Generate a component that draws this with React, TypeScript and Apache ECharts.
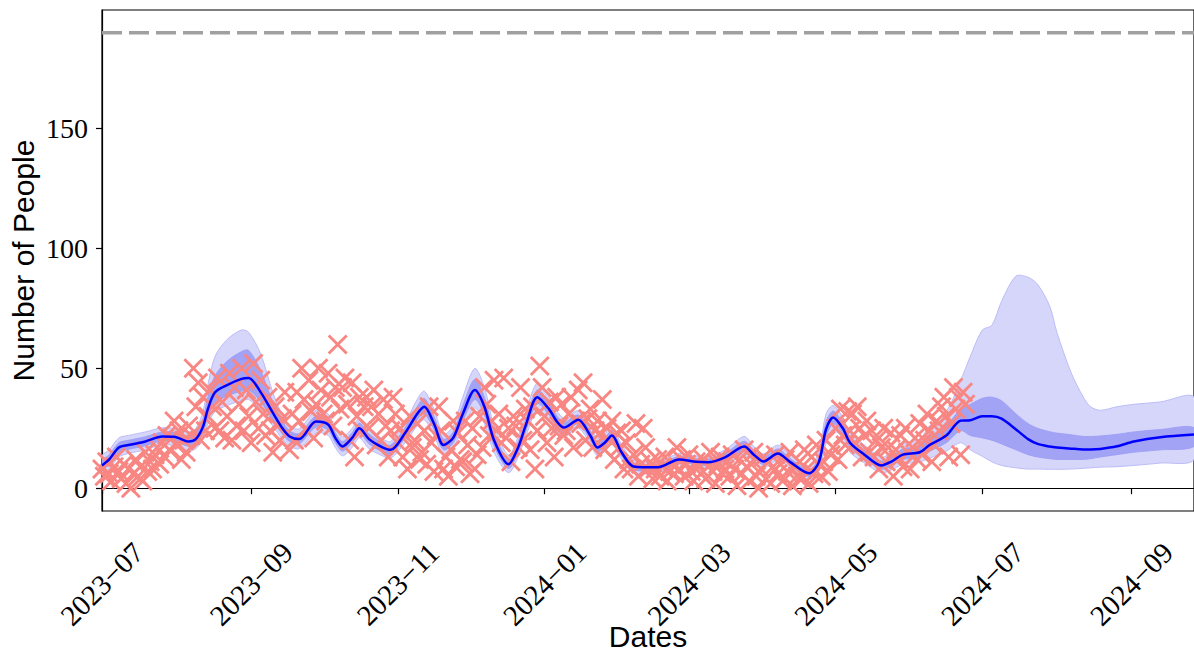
import React, { useEffect, useRef } from "react";
import * as echarts from "echarts";

// ---- data ----
const START = Date.UTC(2023, 6, 1);
const DAY = 86400000;
const X_END_DAY = 454;
const CAPACITY = 190;
const Y_MIN = -9.5;
const Y_MAX = 199.5;
const yTicks = [0, 50, 100, 150];
const xTickDates = ["2023-07-01", "2023-09-01", "2023-11-01", "2024-01-01", "2024-03-01", "2024-05-01", "2024-07-01", "2024-09-01"];

// daily observed counts starting 2023-07-01
const observed = [
  8, 5, 11, 6, 3, 9, 13, 7, 4, 10,
  2, 8, 0, 6, 12, 5, 9, 3, 15, 7,
  11, 8, 14, 17, 10, 19, 13, 22, 16, 21,
  28, 18, 24, 12, 20, 15, 26, 22, 50, 34,
  44, 20, 38, 24, 30, 41, 34, 25, 46, 24,
  36, 21, 30, 48, 20, 42, 26, 35, 50, 24,
  41, 30, 19, 52, 36, 25, 45, 31, 22, 38,
  24, 15, 34, 26, 20, 29, 40, 23, 16, 31,
  20, 40, 28, 50, 37, 24, 45, 32, 21, 35,
  50, 41, 31, 28, 48, 38, 26, 42, 60, 33,
  42, 46, 35, 20, 44, 13, 30, 38, 24, 34,
  38, 25, 34, 41, 18, 31, 20, 37, 26, 13,
  24, 38, 31, 19, 25, 13, 22, 8, 30, 17,
  20, 27, 12, 15, 24, 10, 34, 19, 7, 22,
  34, 24, 8, 13, 5, 16, 28, 9, 23, 12,
  11, 28, 18, 6, 25, 8, 14, 30, 17, 42,
  35, 22, 28, 45, 24, 31, 19, 46, 21, 25,
  11, 30, 26, 17, 42, 20, 33, 28, 16, 34,
  8, 24, 51, 42, 30, 19, 36, 25, 13, 38,
  26, 35, 22, 24, 31, 38, 17, 28, 41, 27,
  44, 20, 29, 33, 17, 24, 28, 23, 37, 16,
  25, 20, 28, 12, 23, 17, 24, 8, 19, 12,
  8, 14, 27, 5, 10, 25, 17, 8, 11, 4,
  8, 12, 5, 9, 13, 3, 7, 10, 6, 17,
  8, 12, 5, 10, 14, 7, 3, 11, 9, 6,
  12, 4, 9, 15, 7, 2, 10, 13, 6, 8,
  11, 5, 14, 8, 1, 12, 6, 16, 9, 3,
  10, 15, 5, 0, 8, 13, 4, 11, 2, 9,
  14, 6, 10, 3, 12, 7, 15, 1, 9, 5,
  11, 4, 16, 8, 2, 13, 6, 18, 10, 5,
  11, 20, 7, 14, 17, 25, 12, 33, 22, 18,
  32, 24, 31, 19, 34, 25, 13, 22, 28, 15,
  24, 13, 20, 8, 17, 25, 11, 17, 23, 5,
  16, 12, 22, 9, 25, 15, 8, 17, 21, 12,
  27, 14, 20, 31, 24, 11, 18, 28, 24, 34,
  38, 30, 13, 27, 42, 33, 38, 14, 40, 35,
];

// model fit: day offsets from 2023-07-01
const fitDays = [0, 3, 7, 11, 18, 25, 30, 36, 39, 42, 44, 47, 52, 58, 61, 66, 71, 75, 78, 82, 89, 94, 97, 100, 104, 107, 111, 116, 120, 126, 131, 134, 138, 142, 146, 150, 155, 159, 163, 169, 173, 176, 181, 186, 189, 192, 198, 203, 206, 209, 212, 216, 221, 231, 240, 247, 252, 259, 267, 271, 275, 281, 286, 294, 298, 301, 304, 308, 311, 317, 324, 328, 333, 340, 344, 351, 357, 361, 366, 370, 374, 380, 385, 389, 394, 397, 403, 408, 411, 415, 422, 429, 440, 454];
const fitMean = [9.5, 12, 17, 18, 19.5, 21.6, 21.5, 19.5, 20.5, 25.7, 33, 40, 43, 45.6, 46, 40, 31.5, 25, 21.6, 20.5, 27.8, 26.6, 21, 17.4, 21, 25, 20.5, 17.4, 16, 23, 31, 34, 27, 18, 21, 31, 41, 34, 20, 10, 17, 25.7, 38, 32.8, 28, 25.3, 28.6, 22, 17, 19, 22, 15, 9.1, 8.7, 12, 11, 10.8, 12.9, 17.4, 14, 11.2, 14.5, 11, 6.2, 10.8, 24.5, 29.5, 25, 19, 14, 9.5, 11, 14, 15, 18, 22, 28.2, 28.4, 30, 30, 29, 24.5, 20.5, 18.5, 17.4, 17, 16.5, 16.2, 16.2, 16.4, 17.5, 19.5, 21.3, 22.4];
const outerLow = [5.5, 8, 13, 14.5, 16, 18, 17.8, 15.5, 16.5, 20.5, 27, 32, 34.5, 36.5, 37, 32.5, 26, 20.5, 17.5, 16.5, 23, 22, 17, 13.5, 17, 21, 16.5, 13.8, 12.5, 19, 26, 28.5, 22, 14, 16.5, 25.5, 33.5, 27, 15, 6.5, 13, 21, 32.5, 28, 24, 21.5, 25, 18.5, 13.5, 15.5, 18.5, 12, 6.5, 6.5, 9.7, 8.6, 8.3, 10, 13.5, 11, 8.5, 11.5, 8.5, 3.6, 7, 18.5, 24, 21, 15, 10.5, 6.5, 7.5, 10, 11, 12.5, 15.5, 19, 16, 13.3, 11, 9.5, 8.5, 8, 8, 7.9, 7.9, 8, 8.3, 8.5, 8.8, 9, 9.5, 10.5, 12];
const innerLow = [7.5, 10, 15, 16.2, 17.7, 19.8, 19.6, 17.5, 18.5, 23, 30, 35.5, 38.5, 40.5, 41, 36, 28.5, 22.5, 19.5, 18.5, 25.5, 24.3, 19, 15.5, 19, 23, 18.5, 15.5, 14.2, 21, 28.5, 31, 24.5, 16, 18.8, 28, 37, 30.5, 17.5, 8.2, 15, 23.3, 35.2, 30.4, 26, 23.4, 26.8, 20.2, 15.2, 17.2, 20.2, 13.5, 7.8, 7.6, 10.8, 9.8, 9.5, 11.4, 15.4, 12.5, 9.9, 13, 9.8, 4.9, 8.9, 21.5, 26.8, 23, 17, 12.2, 8, 9.2, 12, 13, 15.3, 19, 24, 22, 21, 20, 18.5, 16, 14, 13, 12.3, 12, 12, 12, 12.3, 13, 14, 15, 16, 17.4];
const innerHigh = [11.5, 14, 19, 20, 21.5, 23.5, 23.4, 21.8, 23, 29, 38, 47, 53, 57, 57.5, 49, 36, 28, 24, 22.8, 30.2, 29, 23.2, 19.5, 23.2, 27.2, 22.7, 19.3, 18, 25.3, 34, 37.5, 30, 20.5, 23.5, 34.5, 45.5, 38, 23, 12, 19.5, 28.3, 41, 35.4, 30.3, 27.4, 30.5, 24, 19, 21, 24, 16.8, 10.5, 9.9, 13.3, 12.3, 12.1, 14.5, 19.6, 15.8, 12.8, 16.4, 12.5, 7.6, 13, 27.7, 32.2, 27.2, 21.2, 16, 11.4, 13, 16.4, 17.6, 21.2, 26, 33, 35, 37.5, 38, 36.5, 31, 27, 25, 23.6, 23, 22.3, 21.6, 21.6, 21.8, 22.5, 23.5, 24.5, 25.3];
const outerHigh = [13.5, 16, 21, 22, 23.5, 25.2, 25, 23.5, 25, 32, 43, 55, 62, 66, 65, 56, 40, 30.5, 26, 24.8, 32.5, 31, 25, 21.5, 25, 29.2, 24.7, 21, 19.5, 27.3, 37, 40.5, 33, 22.5, 26, 38, 50, 42, 26, 13.8, 21.5, 31, 44, 38, 32.4, 29.4, 32.3, 25.8, 20.8, 22.8, 25.8, 18.3, 11.9, 11, 14.5, 13.5, 13.4, 16, 21.6, 17.4, 14.3, 18, 14, 9, 15, 31, 34.5, 29.5, 23.2, 18, 13, 14.8, 18.6, 20.5, 26, 32, 45, 55, 66, 68, 78, 88.5, 88, 85, 76, 65, 48, 38, 34, 32.5, 34, 35, 36, 38];

const toTs = (d: number) => START + d * DAY;
const X_SYMBOL = "path://M1,0 L5,4 L9,0 L10,1 L6,5 L10,9 L9,10 L5,6 L1,10 L0,9 L4,5 L0,1 Z";

export default function App() {
  const ref = useRef<HTMLDivElement>(null);
  useEffect(() => {
    if (!ref.current) return;
    const chart = echarts.init(ref.current, undefined, { renderer: "svg" });
    const pair = (vals: number[]) => fitDays.map((d, i) => [toTs(d), vals[i]]);
    const smooth = 0.3;
    const tickTs = xTickDates.map((s) => Date.parse(s + "T00:00:00Z"));
    const serif = "'Liberation Serif', 'Times New Roman', serif";
    const sans = "'Liberation Sans', Arial, sans-serif";

    const bandPoints = (api: any, hi: number[], lo: number[]) => {
      const up = fitDays.map((d, i) => api.coord([toTs(d), hi[i]]));
      const down = fitDays.map((d, i) => api.coord([toTs(d), lo[i]])).reverse();
      return up.concat(down);
    };

    chart.setOption({
      animation: false,
      backgroundColor: "#fff",
      grid: {
        left: 102, top: 10, right: 0, bottom: 144,
        outerBoundsMode: "none", containLabel: false,
        show: true, borderColor: "#000", borderWidth: 1.2, backgroundColor: "transparent",
      },
      xAxis: {
        type: "value",
        min: toTs(0),
        max: toTs(X_END_DAY),
        name: "Dates",
        nameLocation: "middle",
        nameGap: 110,
        nameMoveOverlap: false,
        nameTextStyle: { fontFamily: sans, fontSize: 30, color: "#000", verticalAlign: "top" },
        axisLine: { lineStyle: { color: "#000", width: 1.2 } },
        axisTick: { show: true, length: 6, lineStyle: { color: "#000", width: 1.2 }, customValues: tickTs },
        axisLabel: {
          customValues: tickTs,
          rotate: 45,
          align: "center",
          verticalAlign: "middle",
          margin: 73,
          fontFamily: serif,
          fontSize: 29,
          color: "#000",
          formatter: (v: number) => {
            const dt = new Date(v);
            const m = dt.getUTCMonth() + 1;
            return `${dt.getUTCFullYear()}\u2212${m < 10 ? "0" + m : m}`;
          },
        },
        splitLine: { show: false },
      },
      yAxis: {
        type: "value",
        min: Y_MIN,
        max: Y_MAX,
        name: "Number of People",
        nameLocation: "middle",
        nameGap: 64,
        nameMoveOverlap: false,
        nameTextStyle: { fontFamily: sans, fontSize: 30, color: "#000" },
        axisLine: { show: true, lineStyle: { color: "#000", width: 1.2 } },
        axisTick: { show: true, length: 6, lineStyle: { color: "#000", width: 1.2 }, customValues: yTicks },
        axisLabel: { customValues: yTicks, margin: 14, fontFamily: serif, fontSize: 28, color: "#000" },
        splitLine: { show: false },
      },
      series: [
        {
          type: "custom",
          coordinateSystem: "cartesian2d",
          data: [[toTs(0), 0]],
          clip: true,
          silent: true,
          z: 1,
          renderItem: (_params: any, api: any) => ({
            type: "group",
            children: [
              {
                type: "polygon",
                shape: { points: bandPoints(api, outerHigh, outerLow), smooth },
                style: { fill: "#d6d6fb", stroke: "#bcbcf8", lineWidth: 1 },
              },
              {
                type: "polygon",
                shape: { points: bandPoints(api, innerHigh, innerLow), smooth },
                style: { fill: "#a3a3f6", stroke: "#9a9af4", lineWidth: 0.8 },
              },
            ],
          }),
        },
        {
          type: "scatter",
          data: observed.map((v, i) => [toTs(i), v]),
          symbol: X_SYMBOL,
          symbolSize: 20,
          itemStyle: { color: "#f88682", opacity: 1 },
          z: 3,
        },
        {
          type: "line", data: pair(fitMean), smooth, symbol: "none",
          lineStyle: { color: "#0000ff", width: 2.5 }, z: 4,
        },
        {
          type: "line",
          data: [[toTs(0), CAPACITY], [toTs(X_END_DAY), CAPACITY]],
          symbol: "none",
          lineStyle: { color: "#a0a0a0", width: 3.5, type: [20, 7] },
          z: 4,
        },
      ],
    });
    return () => chart.dispose();
  }, []);
  return <div ref={ref} style={{ position: "absolute", left: 0, top: 0, width: 1194, height: 655 }} />;
}
